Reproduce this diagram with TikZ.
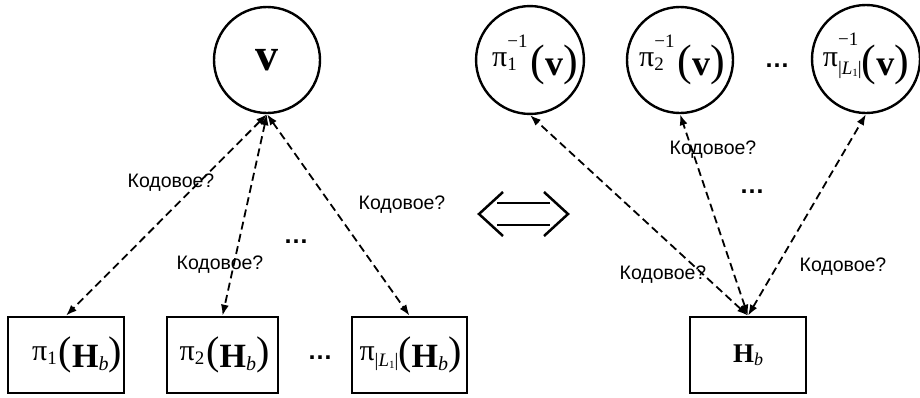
\documentclass[tikz,border=0pt]{standalone}
\usepackage{fontspec}
\setmainfont{Liberation Serif}
\newfontfamily\lblfont{Liberation Sans}
\usetikzlibrary{arrows.meta}
\newcommand{\fsz}[1]{\fontsize{#1}{#1}\selectfont}
\newdimen\sswd
\newcommand{\subsup}[4]{% sub, sup, sub raise, sup raise
  \setbox1=\hbox{\fsz{19}#1}\setbox2=\hbox{\fsz{19}#2}%
  \ifdim\wd1>\wd2 \sswd=\wd1 \else \sswd=\wd2 \fi
  \rlap{\raisebox{#4}{\box2}}\makebox[\sswd][l]{\raisebox{#3}{\box1}}}
\newcommand{\pisym}[5]{\raisebox{#5}{\fsz{30}π}\subsup{#1}{#2}{#3}{#4}}
\newcommand{\Lone}{|{\itshape L}\raisebox{-2pt}{\fsz{11}1}|}
\newcommand{\bigp}[3]{\raisebox{#3}{\fsz{#2}(}#1\raisebox{#3}{\fsz{#2})}}
\newcommand{\Hb}[2]{{\fsz{#1}\bfseries H}\raisebox{-3pt}{\fsz{#2}\itshape b}}
\newcommand{\vb}{{\fsz{36}\bfseries v}}
\tikzset{
  circ/.style={circle, draw, line width=2.4pt, minimum size=106pt, inner sep=0pt, font=\fsz{26}},
  boxn/.style={rectangle, draw, line width=2.6pt, minimum height=76pt, inner sep=0pt, font=\fsz{26}},
  conn/.style={dashed, dash pattern=on 8pt off 4.5pt, line width=1.8pt, {Latex[length=11pt,width=8pt]}-{Latex[length=11pt,width=8pt]}},
  lbl/.style={font=\lblfont\fsz{19.5}, inner sep=0pt},
  dots/.style={font=\lblfont\bfseries\fsz{25}, inner sep=0pt}
}
\begin{document}
\begin{tikzpicture}[x=1pt,y=-1pt]
\useasboundingbox (0,0) rectangle (920,397);
% left circle
\node[circ] (v) at (267,60) {{\fsz{46}\bfseries v}};
% left boxes
\node[boxn, minimum width=116pt] (b1) at (66,355) {\hspace{22pt}\pisym{1}{}{3pt}{30pt}{7pt}\hspace{2pt}\bigp{\Hb{34}{20}}{40}{3pt}};
\node[boxn, minimum width=111pt] (b2) at (222.5,355) {\hspace{4pt}\pisym{2}{}{3pt}{30pt}{7pt}\hspace{2pt}\bigp{\Hb{34}{20}}{40}{3pt}};
\node[boxn, minimum width=115pt] (b3) at (409.5,355) {\hspace{2pt}\pisym{\Lone}{}{1pt}{30pt}{7pt}\bigp{\Hb{34}{20}}{40}{3pt}};
\node[dots] (d1) at (320,358) {…};
% right circles
\node[circ] (c1) at (530,60) {\hspace{10pt}\pisym{1}{−1}{5pt}{28pt}{9pt}\hspace{3pt}\bigp{\vb}{44}{0pt}};
\node[circ] (c2) at (680,60) {\hspace{4pt}\pisym{2}{−1}{5pt}{28pt}{9pt}\hspace{3pt}\bigp{\vb}{44}{0pt}};
\node[circ, minimum size=108pt] (c3) at (866,59) {\pisym{\Lone}{−1}{1pt}{30pt}{9pt}\bigp{\vb}{44}{0pt}};
\node[dots] (d2) at (777,66) {…};
% right box
\node[boxn, minimum width=116pt] (hb) at (748,355) {\Hb{27}{18}};
% connectors left
\draw[conn] (v.south) -- (b1.north);
\draw[conn] (v.south) -- (b2.north);
\draw[conn] (v.south) -- (b3.north);
% connectors right
\draw[conn] (hb.north) -- (c1.south);
\draw[conn] (hb.north) -- (c2.south);
\draw[conn] (hb.north) -- (c3.south);
% labels
\node[lbl] (l1) at (171,183) {Кодовое?};
\node[lbl] (l2) at (220,265) {Кодовое?};
\node[lbl] (l3) at (402,205) {Кодовое?};
\node[dots] (d3) at (296,242) {…};
\node[lbl] (l4) at (713,150) {Кодовое?};
\node[lbl] (l5) at (663,275) {Кодовое?};
\node[lbl] (l6) at (843,267) {Кодовое?};
\node[dots] (d4) at (752,192) {…};
% double arrow
\draw[line width=2.5pt] (497,203) -- (550,203) (497,225) -- (550,225);
\draw[line width=2.5pt, line join=miter] (503,192) -- (479,214) -- (503,236);
\draw[line width=2.5pt, line join=miter] (544,192) -- (568,214) -- (544,236);
\end{tikzpicture}
\end{document}
